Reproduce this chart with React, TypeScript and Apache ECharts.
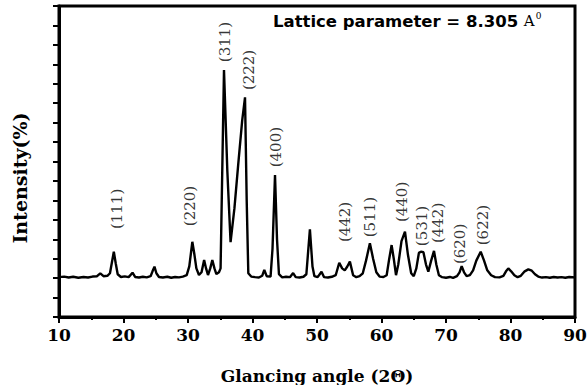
import React, { useEffect, useRef } from "react";
import * as echarts from "echarts";

// 2θ (degrees) and intensity (arbitrary units on the drawn scale)
const angles: number[] = [
  10.0, 10.8, 11.5, 12.2, 13.0, 13.8, 14.5, 15.2, 15.9, 16.4, 16.9, 17.5, 17.9, 18.2, 18.5, 18.8, 19.1, 19.6,
  20.2, 20.8, 21.4, 21.8, 22.4, 23.0, 23.6, 24.2, 24.5, 24.8, 25.1, 25.5, 26.1, 26.8, 27.4, 28.0, 28.6, 29.2,
  29.8, 30.2, 30.67, 31.0, 31.3, 31.7, 32.1, 32.5, 32.8, 33.1, 33.45, 33.77, 34.1, 34.4, 34.8, 35.05, 35.58,
  36.1, 36.6, 37.2, 37.8, 38.4, 38.84, 39.1, 39.35, 39.8, 40.4, 41.0, 41.5, 41.83, 42.2, 42.8, 43.1, 43.49,
  43.8, 44.1, 44.6, 45.2, 45.8, 46.3, 46.7, 47.3, 47.9, 48.35, 48.9, 49.3, 49.6, 50.1, 50.7, 51.1, 51.7, 52.3,
  52.9, 53.45, 53.9, 54.3, 54.7, 55.1, 55.6, 56.1, 56.6, 57.1, 57.6, 58.2, 58.7, 59.2, 59.7, 60.3, 60.8, 61.2,
  61.57, 61.9, 62.25, 62.6, 63.1, 63.64, 64.1, 64.6, 65.0, 65.4, 65.8, 66.1, 66.5, 66.9, 67.26, 67.7, 68.14,
  68.5, 68.9, 69.4, 70.0, 70.6, 71.1, 71.7, 72.1, 72.43, 72.8, 73.2, 73.7, 74.2, 74.7, 75.38, 75.9, 76.4, 77.0,
  77.6, 78.3, 78.9, 79.3, 79.66, 80.1, 80.6, 81.1, 81.6, 82.2, 82.76, 83.3, 83.8, 84.3, 84.9, 85.5, 86.1, 86.7,
  87.3, 87.9, 88.5, 89.1, 90.0,
];
const intensities: number[] = [
  2.05, 2.08, 2.03, 2.07, 2.02, 2.06, 2.03, 2.08, 2.1, 2.25, 2.1, 2.12, 2.25, 2.8, 3.36, 2.75, 2.2, 2.06,
  2.09, 2.05, 2.28, 2.06, 2.03, 2.07, 2.04, 2.1, 2.35, 2.59, 2.25, 2.06, 2.03, 2.07, 2.02, 2.06, 2.04, 2.08,
  2.15, 2.6, 3.87, 3.2, 2.5, 2.16, 2.3, 2.93, 2.5, 2.16, 2.5, 2.93, 2.5, 2.21, 2.3, 2.5, 12.7,
  7.5, 3.85, 5.6, 7.9, 10.1, 11.3, 6.0, 2.25, 2.08, 2.05, 2.03, 2.12, 2.42, 2.1, 2.08, 3.5, 7.3,
  4.0, 2.2, 2.04, 2.07, 2.05, 2.26, 2.05, 2.03, 2.07, 2.2, 4.51, 2.6, 2.1, 2.05, 2.33, 2.05, 2.03, 2.07,
  2.15, 2.79, 2.5, 2.4, 2.6, 2.85, 2.15, 2.05, 2.1, 2.25, 2.9, 3.79, 3.0, 2.3, 2.08, 2.06, 2.15, 3.0,
  3.7, 3.0, 2.15, 2.7, 3.9, 4.39, 3.2, 2.25, 2.1, 2.5, 3.3, 3.36, 3.33, 2.7, 2.33, 2.9, 3.4,
  2.7, 2.15, 2.05, 2.02, 2.06, 2.01, 2.1, 2.3, 2.62, 2.3, 2.1, 2.15, 2.4, 2.9, 3.36, 2.9, 2.4, 2.15,
  2.05, 2.04, 2.12, 2.35, 2.5, 2.35, 2.15, 2.05, 2.12, 2.35, 2.45, 2.38, 2.2, 2.08, 2.03, 2.05, 2.02, 2.06,
  2.03, 2.05, 2.02, 2.06, 2.04,
];

// Miller-index annotations (text, centre angle, centre height)
const peakLabels: string[] = ["(111)", "(220)", "(311)", "(222)", "(400)", "(442)", "(511)", "(440)", "(531)", "(442)", "(620)", "(622)"];
const peakLabelAngles: number[] = [18.99, 30.31, 35.74, 39.46, 43.64, 54.34, 58.22, 63.18, 66.28, 68.76, 72.17, 75.74];
const peakLabelHeights: number[] = [5.56, 5.71, 14.15, 12.71, 8.74, 4.89, 5.14, 5.92, 4.68, 4.84, 3.76, 4.73];

const xTicks: number[] = [10, 20, 30, 40, 50, 60, 70, 80, 90];
const xTitle = "Glancing angle (2\u0398)";
const yTitle = "Intensity(%)";
const latticeText = "Lattice parameter = 8.305 ";

export default function App() {
  const ref = useRef<HTMLDivElement>(null);
  useEffect(() => {
    if (!ref.current) return;
    const chart = echarts.init(ref.current, null, { renderer: "svg" });
    const serif = "DejaVu Serif";
    chart.setOption({
      animation: false,
      backgroundColor: "#fff",
      grid: {
        left: 59,
        right: 13,
        top: 6,
        bottom: 68,
        show: true,
        borderColor: "#000",
        borderWidth: 3,
        outerBoundsMode: "none",
        containLabel: false,
      },
      xAxis: {
        type: "value",
        min: xTicks[0],
        max: xTicks[xTicks.length - 1],
        interval: 10,
        name: xTitle,
        nameLocation: "middle",
        nameGap: 50,
        nameMoveOverlap: false,
        nameTextStyle: { fontFamily: serif, fontWeight: "bold", fontSize: 17, color: "#000" },
        axisLine: { lineStyle: { color: "#000", width: 3 } },
        axisTick: { show: true, inside: false, length: 6, lineStyle: { color: "#000", width: 2 } },
        minorTick: { show: true, splitNumber: 2, length: 3, lineStyle: { color: "#000", width: 2 } },
        axisLabel: { fontFamily: serif, fontWeight: "bold", fontSize: 17, color: "#000", margin: 9 },
        splitLine: { show: false },
      },
      yAxis: {
        type: "value",
        min: 0,
        max: 16,
        interval: 1,
        axisLine: { show: true, lineStyle: { color: "#000", width: 3 } },
        axisTick: { show: true, inside: false, length: 6, lineStyle: { color: "#000", width: 2 } },
        axisLabel: { show: false },
        splitLine: { show: false },
      },
      graphic: [
        {
          type: "text",
          x: 20,
          y: 178,
          rotation: Math.PI / 2,
          style: {
            text: yTitle,
            fontFamily: serif,
            fontWeight: "bold",
            fontSize: 19,
            fill: "#000",
            align: "center",
            verticalAlign: "middle",
          },
        },
        {
          type: "text",
          x: 273,
          y: 21,
          style: {
            text: "{a|" + latticeText + "}{b|A}{s|0}",
            align: "left",
            verticalAlign: "middle",
            rich: {
              a: { fontFamily: "DejaVu Sans", fontWeight: "bold", fontSize: 16.5, fill: "#000", color: "#000" },
              b: { fontFamily: serif, fontSize: 15, fill: "#000", color: "#000" },
              s: { fontFamily: serif, fontSize: 9, fill: "#000", color: "#000", verticalAlign: "top", padding: [0, 0, 10, 1] },
            },
          },
        },
      ],
      series: [
        {
          type: "line",
          data: angles.map((a, i) => [a, intensities[i]]),
          symbol: "none",
          lineStyle: { color: "#000", width: 2.4 },
          silent: true,
        },
        {
          type: "scatter",
          symbolSize: 0,
          silent: true,
          data: peakLabels.map((t, i) => ({ name: t, value: [peakLabelAngles[i], peakLabelHeights[i]] })),
          label: {
            show: true,
            position: "inside",
            rotate: 90,
            formatter: (p: any) => p.name,
            fontFamily: serif,
            fontSize: 15,
            color: "#000",
            align: "center",
            verticalAlign: "middle",
          },
        },
      ],
    });
    return () => chart.dispose();
  }, []);
  return <div ref={ref} style={{ position: "fixed", left: 0, top: 0, width: 588, height: 385 }} />;
}
